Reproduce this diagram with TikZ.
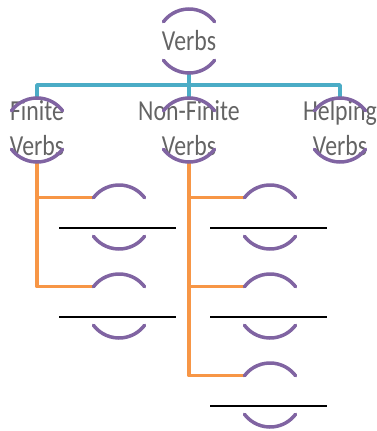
\documentclass[tikz,border=0pt]{standalone}
\usepackage{fontspec}
\setmainfont{Carlito}[FakeStretch=0.82]
\definecolor{arcpurple}{HTML}{8064A2}
\definecolor{busblue}{HTML}{4BACC6}
\definecolor{branchorange}{HTML}{F79646}
\definecolor{txtgray}{HTML}{646464}
\tikzset{
  ring/.style={circle, minimum size=64pt, inner sep=0pt, outer sep=0pt},
  arcline/.style={draw=arcpurple, line width=3.5pt, line cap=round},
  lbl/.style={text=txtgray, align=center, inner sep=0pt, font=\fontsize{29}{35}\selectfont},
  busline/.style={draw=busblue, line width=3.5pt, line join=round},
  brline/.style={draw=branchorange, line width=3.5pt, line join=round},
  blank/.style={draw=black, line width=2pt}
}
\newcommand{\ringarcs}[1]{%
  \draw[arcline] (#1.143) arc[start angle=143, end angle=37, radius=32pt];
  \draw[arcline] (#1.217) arc[start angle=217, end angle=323, radius=32pt];}
\newcommand{\blankline}[1]{%
  \draw[blank] ([shift={(-60,11)}]#1.center) -- ([shift={(57,11)}]#1.center);}
\begin{document}
\begin{tikzpicture}[x=1pt, y=-1pt]
\useasboundingbox (0,0) rectangle (377,431);
% rings
\node[ring] (v) at (189,41) {};
\node[ring] (fin) at (37,130) {};
\node[ring] (nf) at (189,130) {};
\node[ring] (hlp) at (340,130) {};
\node[ring] (f1) at (119,217) {};
\node[ring] (f2) at (119,306) {};
\node[ring] (n1) at (270,217) {};
\node[ring] (n2) at (270,306) {};
\node[ring] (n3) at (270,395) {};
\coordinate (bus) at (189,85);
% connectors
\draw[busline] (v.south) -- (bus) -| (fin.north);
\draw[busline] (bus) -| (hlp.north);
\draw[busline] (bus) -- (nf.north);
\draw[brline] (fin.south) |- (f1.143);
\draw[brline] (fin.south) |- (f2.143);
\draw[brline] (nf.south) |- (n1.143);
\draw[brline] (nf.south) |- (n2.143);
\draw[brline] (nf.south) |- (n3.143);
% blank lines
\blankline{f1}
\blankline{f2}
\blankline{n1}
\blankline{n2}
\blankline{n3}
% labels
\node[lbl, anchor=base] (vt) at (189,50) {Verbs};
\node[lbl, anchor=base] (fint) at (37,155) {Finite\\Verbs};
\node[lbl, anchor=base] (nft) at (189,155) {Non-Finite\\Verbs};
\node[lbl, anchor=base] (hlpt) at (340,155) {Helping\\Verbs};
% arcs
\ringarcs{v}
\ringarcs{fin}
\ringarcs{nf}
\ringarcs{hlp}
\ringarcs{f1}
\ringarcs{f2}
\ringarcs{n1}
\ringarcs{n2}
\ringarcs{n3}
\end{tikzpicture}
\end{document}
